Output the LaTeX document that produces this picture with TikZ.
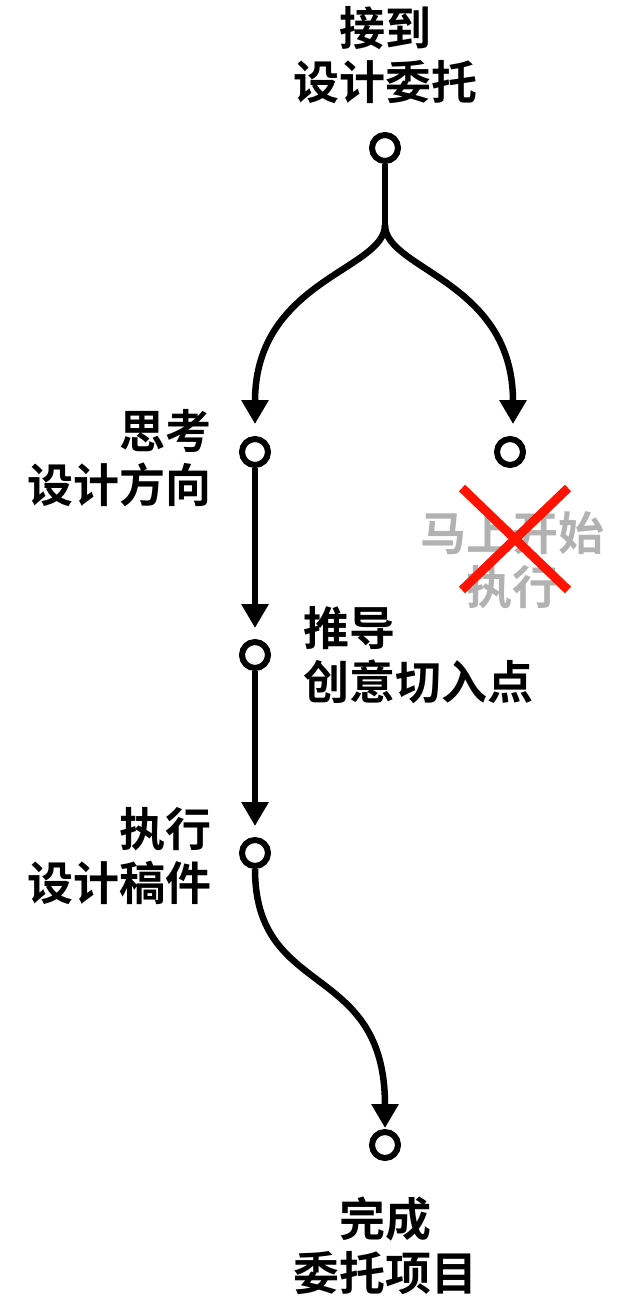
\documentclass[tikz,border=0pt]{standalone}
\usepackage{fontspec}
\newfontfamily\cjk{Noto Sans CJK SC}[BoldFont={Noto Sans CJK SC Bold}]
\usetikzlibrary{arrows.meta}
\begin{document}
\begin{tikzpicture}[x=1pt,y=-1pt,
  dot/.style={circle,draw,line width=6pt,minimum size=26pt,inner sep=0pt,fill=white},
  lbl/.style={font=\cjk\bfseries\fontsize{46}{54}\selectfont,align=center,inner sep=0pt},
  ln/.style={line width=6.5pt},
  ar/.style={ln,-{Triangle[width=26pt,length=24pt]}}]
\useasboundingbox (0,0) rectangle (640,1314);
\node[lbl] (t0) at (385,55) {接到\\设计委托};
\node[dot] (c0) at (385,148) {};
\coordinate (sp) at (385,225);
\node[dot] (c1) at (255,452) {};
\node[dot] (c2) at (510,452) {};
\node[dot] (c3) at (255,655) {};
\node[dot] (c4) at (255,853) {};
\node[dot] (c5) at (385,1145) {};
\node[lbl,align=right,anchor=east] (t1) at (212,458) {思考\\设计方向};
\node[lbl,align=left,anchor=west] (t3) at (303,655) {推导\\创意切入点};
\node[lbl,align=right,anchor=east] (t4) at (212,856) {执行\\设计稿件};
\node[lbl] (t5) at (385,1246) {完成\\委托项目};
\node[lbl,text=black!30] (tx) at (512,560) {马上开始\\执行};
\draw[line width=9pt,red!85!orange] (462,488) -- (568,590) (568,488) -- (462,590);
\draw[ln] (c0) -- (sp);
\draw[ar] (sp) .. controls (385,270) and (255,280) .. (255,424);
\draw[ar] (sp) .. controls (385,270) and (513,280) .. (513,424);
\draw[ar] (c1) -- (255,628);
\draw[ar] (c3) -- (255,826);
\draw[ar] (c4.south) .. controls (255,1000) and (385,960) .. (385,1128);
\end{tikzpicture}
\end{document}
